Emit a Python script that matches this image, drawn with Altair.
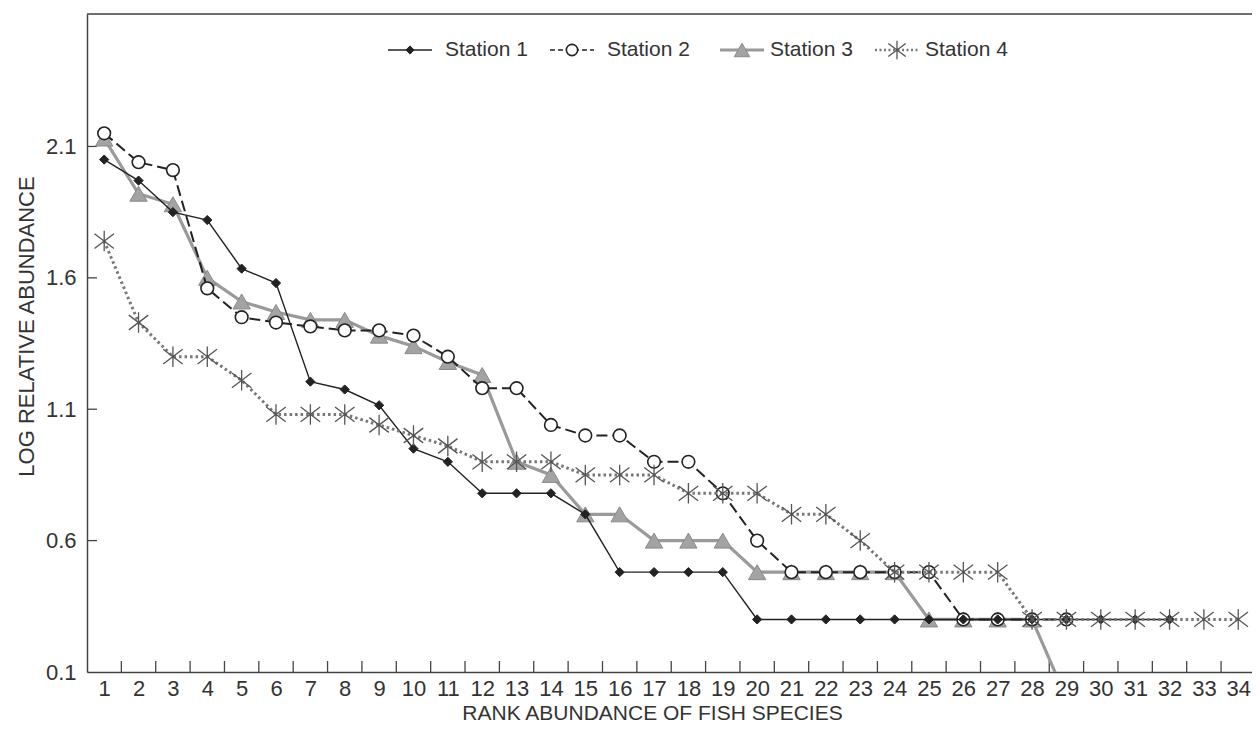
import altair as alt
import pandas as pd

# ---------------- data ----------------
stations = ["Station 1", "Station 2", "Station 3", "Station 4"]

station1 = [2.05, 1.97, 1.85, 1.82, 1.635, 1.58, 1.205, 1.175, 1.115, 0.95,
            0.90, 0.78, 0.78, 0.78, 0.70, 0.48, 0.48, 0.48, 0.48, 0.30,
            0.30, 0.30, 0.30, 0.30, 0.30, 0.30, 0.30, 0.30, 0.30, 0.30,
            0.30, 0.30]
station2 = [2.15, 2.04, 2.01, 1.56, 1.45, 1.43, 1.415, 1.40, 1.40, 1.38,
            1.30, 1.18, 1.18, 1.04, 1.00, 1.00, 0.90, 0.90, 0.78, 0.60,
            0.48, 0.48, 0.48, 0.48, 0.48, 0.30, 0.30, 0.30, 0.30]
station3 = [2.13, 1.92, 1.88, 1.60, 1.51, 1.47, 1.44, 1.44, 1.38, 1.34,
            1.28, 1.23, 0.90, 0.85, 0.70, 0.70, 0.60, 0.60, 0.60, 0.48,
            0.48, 0.48, 0.48, 0.48, 0.30, 0.30, 0.30, 0.30, 0.0]
station4 = [1.74, 1.43, 1.30, 1.30, 1.21, 1.08, 1.08, 1.08, 1.04, 1.00,
            0.96, 0.90, 0.90, 0.90, 0.85, 0.85, 0.85, 0.78, 0.78, 0.78,
            0.70, 0.70, 0.60, 0.48, 0.48, 0.48, 0.48, 0.30, 0.30, 0.30,
            0.30, 0.30, 0.30, 0.30]

rank_labels = list(range(1, 35))
y_tick_values = [0.1, 0.6, 1.1, 1.6, 2.1]

# ---------------- tables ----------------
rows = []
for name, vals in zip(stations, [station1, station2, station3, station4]):
    for i, v in enumerate(vals, start=1):
        rows.append({"station": name, "rank": i, "value": v})
df = pd.DataFrame(rows)

xtick_df = pd.DataFrame({"b": [r + 0.5 for r in rank_labels[:-1]]})
ytick_df = pd.DataFrame({"v": y_tick_values[1:]})

# ---------------- style ----------------
W, H = 1165, 658
FONT = "Liberation Sans"
TXT = "#333333"
AX = "#444444"
ASTER = "M0,-1L0,1M-0.95,-0.72L0.95,0.72M-0.95,0.72L0.95,-0.72"

xs = alt.Scale(domain=[0.5, 34.4], nice=False, zero=False)
ys = alt.Scale(domain=[0.1, 2.604], nice=False, zero=False)

x_axis = alt.Axis(values=rank_labels, ticks=False, tickSize=0, grid=False,
                  labelFontSize=22, labelPadding=6, labelColor=TXT, labelFont=FONT,
                  labelFlush=False, labelOverlap=False,
                  domainColor=AX, domainWidth=1.5,
                  title="RANK ABUNDANCE OF FISH SPECIES", titleFont=FONT,
                  titleFontSize=21, titleFontWeight="normal", titleColor=TXT,
                  titlePadding=3, titleX=565)
y_axis = alt.Axis(values=y_tick_values, format=".1f", ticks=False, tickSize=0, grid=False,
                  labelFontSize=22, labelPadding=11, labelColor=TXT, labelFont=FONT,
                  labelFlush=False, labelOverlap=False,
                  domainColor=AX, domainWidth=1.5,
                  title="LOG RELATIVE ABUNDANCE", titleFont=FONT,
                  titleFontSize=22, titleFontWeight="normal", titleColor=TXT,
                  titlePadding=7, titleY=312)

X = alt.X("rank:Q", scale=xs, axis=x_axis)
Y = alt.Y("value:Q", scale=ys, axis=y_axis)


def sub(name):
    return alt.Chart(df[df.station == name])


line_styles = {
    "Station 1": dict(color="#222222", strokeWidth=1.4),
    "Station 2": dict(color="#222222", strokeWidth=2, strokeDash=[11, 5]),
    "Station 3": dict(color="#9a9a9a", strokeWidth=3.2),
    "Station 4": dict(color="#777777", strokeWidth=3, strokeDash=[2.5, 3]),
}
point_styles = {
    "Station 1": dict(shape="diamond", filled=True, fill="#222222", stroke="#222222",
                      strokeWidth=1, size=85, opacity=1),
    "Station 2": dict(shape="circle", filled=True, fill="white", stroke="#222222",
                      strokeWidth=1.6, size=160, opacity=1),
    "Station 3": dict(shape="triangle-up", filled=True, fill="#a3a3a3", stroke="#8a8a8a",
                      strokeWidth=1, size=300, opacity=1),
    "Station 4": dict(shape=ASTER, filled=False, stroke="#555555",
                      strokeWidth=1.3, size=420, opacity=1),
}

layers = []
for name in ["Station 3", "Station 2", "Station 1", "Station 4"]:
    layers.append(sub(name).mark_line(clip=True, **line_styles[name]).encode(x=X, y=Y))
    layers.append(sub(name).mark_point(clip=True, **point_styles[name]).encode(x=X, y=Y))

# inward tick marks
xticks = alt.Chart(xtick_df).mark_rule(color=AX, strokeWidth=1.3).encode(
    x=alt.X("b:Q", scale=xs, axis=x_axis), y=alt.value(H), y2=alt.value(H - 11))
yticks = alt.Chart(ytick_df).mark_rule(color=AX, strokeWidth=1.3).encode(
    y=alt.Y("v:Q", scale=ys, axis=y_axis), x=alt.value(0), x2=alt.value(10))

# top frame line
top_line = alt.Chart(pd.DataFrame({"a": [0]})).mark_rule(color=AX, strokeWidth=1.5).encode(
    x=alt.value(0), x2=alt.value(W), y=alt.value(0))

# manual legend (pixel positions inside the plot area)
legend_sym_x = [323, 485, 655, 810]
legend_txt_x = [358, 520, 683, 838]
legend_y = 36
legend_dash = {
    "Station 1": dict(color="#222222", strokeWidth=1.4),
    "Station 2": dict(color="#222222", strokeWidth=1.6, strokeDash=[5, 3]),
    "Station 3": dict(color="#9a9a9a", strokeWidth=3.2),
    "Station 4": dict(color="#777777", strokeWidth=2.5, strokeDash=[2, 2.5]),
}
legend_layers = []
one = pd.DataFrame({"a": [0]})
for name, sx, tx in zip(stations, legend_sym_x, legend_txt_x):
    legend_layers.append(alt.Chart(one).mark_rule(**legend_dash[name]).encode(
        x=alt.value(sx - 22), x2=alt.value(sx + 22), y=alt.value(legend_y)))
    ps = dict(point_styles[name])
    ps["size"] = ps["size"] * 0.8
    legend_layers.append(alt.Chart(one).mark_point(**ps).encode(
        x=alt.value(sx), y=alt.value(legend_y)))
    legend_layers.append(alt.Chart(one).mark_text(
        text=name, align="left", baseline="middle", font=FONT, fontSize=21, color=TXT
    ).encode(x=alt.value(tx), y=alt.value(legend_y)))

chart = alt.layer(top_line, xticks, yticks, *layers, *legend_layers).properties(
    width=W, height=H,
    padding={"left": 79, "top": 6, "right": 0, "bottom": 51},
    autosize=alt.AutoSizeParams(type="none"),
).configure_view(stroke=None).configure(font=FONT)

chart.save("out.html", embed_options={"renderer": "svg", "actions": False})
